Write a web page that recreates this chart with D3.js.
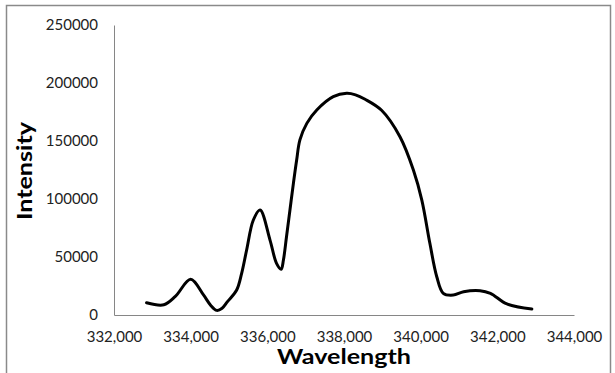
<!DOCTYPE html>
<html><head><meta charset="utf-8">
<script src="https://cdn.jsdelivr.net/npm/d3@7"></script>
<style>body{margin:0;background:#fff;} svg{display:block;}</style>
</head><body>
<svg id="c" width="615" height="373"></svg>
<script>
const wavelength = [332850,333300,333600,334000,334330,334520,334680,334820,334960,335200,335330,335460,335635,335810,336070,336240,336360,336420,336500,336590,336680,336765,336850,337030,337290,337720,338070,338300,338550,338980,339460,339810,340030,340240,340420,340590,340850,341120,341550,341820,342250,342900];
const intensity  = [10600,8800,16000,30800,17500,8500,4000,5800,11500,21500,35900,56000,81900,90500,64600,44500,39400,47400,67500,90500,113500,133600,150900,165200,176700,188200,191100,189800,186000,176500,153700,125000,99100,61800,33000,18700,17200,20100,21000,18700,9500,5200];
const xTicks = [332000,334000,336000,338000,340000,342000,344000];
const yTicks = [0,50000,100000,150000,200000,250000];
const xTitle = "Wavelength", yTitle = "Intensity";

const svg = d3.select("#c");
const font = "Lato, 'Open Sans', sans-serif";
svg.append("rect").attr("x",6.5).attr("y",5.5).attr("width",604).attr("height",372)
  .attr("fill","none").attr("stroke","#8a8a8a").attr("stroke-width",1.5);

const x = d3.scaleLinear().domain([332000,344000]).range([114,574]);
const y = d3.scaleLinear().domain([0,250000]).range([315,25]);

const fmtX = d3.format(",");
const xa = svg.append("g").attr("transform","translate(0,315)")
  .call(d3.axisBottom(x).tickValues(xTicks).tickFormat(fmtX).tickSize(0).tickPadding(16));
const ya = svg.append("g").attr("transform","translate(114,0)")
  .call(d3.axisLeft(y).tickValues(yTicks).tickFormat(d3.format("d")).tickSize(0).tickPadding(16));
[xa,ya].forEach(a=>{
  a.select(".domain").attr("stroke","#868686").attr("stroke-width",1);
  a.selectAll("text").attr("font-family",font).attr("font-size",15).attr("fill","#222");
});

const pts = wavelength.map((w,i)=>[w,intensity[i]]);
svg.append("path").datum(pts)
  .attr("d", d3.line().x(d=>x(d[0])).y(d=>y(d[1])).curve(d3.curveCatmullRom.alpha(0.5)))
  .attr("fill","none").attr("stroke","#000").attr("stroke-width",3)
  .attr("stroke-linejoin","round").attr("stroke-linecap","round");

svg.append("text").attr("x",344).attr("y",364).attr("text-anchor","middle")
  .attr("textLength",134).attr("lengthAdjust","spacingAndGlyphs")
  .attr("font-family",font).attr("font-weight","bold").attr("font-size",21).attr("fill","#000").text(xTitle);
svg.append("text").attr("transform","translate(32,171) rotate(-90)").attr("text-anchor","middle")
  .attr("textLength",98).attr("lengthAdjust","spacingAndGlyphs")
  .attr("font-family",font).attr("font-weight","bold").attr("font-size",21).attr("fill","#000").text(yTitle);
</script>
</body></html>
